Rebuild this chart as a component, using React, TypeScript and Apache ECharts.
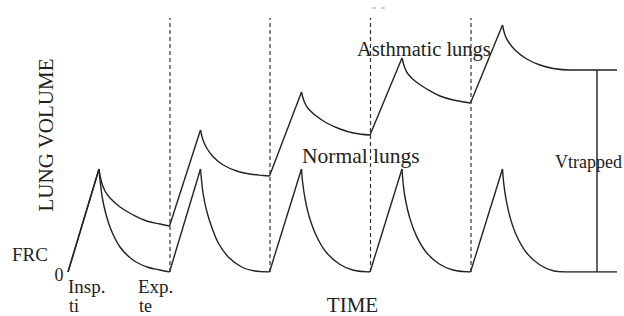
import React, { useEffect, useRef } from "react";
import * as echarts from "echarts";

// Time (x) in arbitrary units, lung volume above FRC (y) in arbitrary units
const startPoint: number[] = [0, 0];

const normalCycle1 = [[0.31, 103], [0.32, 92], [0.353, 69], [0.42, 45], [0.52, 25], [0.65, 12], [0.79, 5], [0.92, 2], [1.015, 0]];
const normalCycle2 = [[1.325, 103], [1.337, 90], [1.355, 76], [1.387, 61], [1.437, 45], [1.503, 29], [1.603, 15], [1.737, 5], [1.87, 1], [2.015, 0]];
const normalCycle3 = [[2.335, 103], [2.347, 89], [2.373, 72], [2.413, 55], [2.48, 37], [2.58, 20], [2.713, 8], [2.847, 2], [3.02, 0]];
const normalCycle4 = [[3.34, 103], [3.352, 88], [3.375, 72], [3.415, 55], [3.48, 37], [3.58, 20], [3.713, 8], [3.85, 2], [4.025, 0]];
const normalCycle5 = [[4.345, 103], [4.357, 89], [4.38, 73], [4.42, 55], [4.487, 36], [4.587, 19], [4.72, 7], [4.86, 1], [4.987, 0], [5.49, 0]];

const asthmaCycle1 = [[0.31, 103], [0.335, 90], [0.37, 81], [0.42, 74], [0.52, 65], [0.653, 57], [0.787, 51], [0.92, 48], [1.015, 46]];
const asthmaCycle2 = [[1.325, 142], [1.35, 132], [1.387, 124], [1.453, 115], [1.553, 107], [1.687, 101], [1.82, 98], [1.953, 96.5], [2.015, 96]];
const asthmaCycle3 = [[2.335, 180], [2.36, 171], [2.397, 164], [2.47, 157], [2.587, 149], [2.72, 143], [2.853, 139], [3.02, 137]];
const asthmaCycle4 = [[3.34, 214], [3.365, 205], [3.4, 198], [3.47, 191], [3.587, 183], [3.72, 176], [3.853, 172], [4.025, 169]];
const asthmaCycle5 = [[4.345, 247], [4.37, 237], [4.405, 230], [4.47, 222], [4.587, 213], [4.72, 207], [4.853, 203.5], [5.02, 202], [5.49, 202]];

const dashedTimes = [1.02, 2.02, 3.025, 4.03];
const dashedTop = 254;
const vtrappedTime = 5.29;
const vtrappedRange = [0, 202];

const normalCycles = [normalCycle1, normalCycle2, normalCycle3, normalCycle4, normalCycle5];
const asthmaCycles = [asthmaCycle1, asthmaCycle2, asthmaCycle3, asthmaCycle4, asthmaCycle5];

const INK = "#222";
const FONT = "'Liberation Serif', 'Times New Roman', Times, serif";

function buildCurve(cycles: number[][][]) {
  const out: any[] = [];
  let prev = startPoint;
  cycles.forEach((cyc) => {
    out.push({
      type: "line",
      data: [prev, cyc[0]],
      symbol: "none",
      silent: true,
      lineStyle: { color: INK, width: 1.4 },
    });
    out.push({
      type: "line",
      data: cyc,
      symbol: "none",
      smooth: 0.4,
      silent: true,
      lineStyle: { color: INK, width: 1.4 },
    });
    prev = cyc[cyc.length - 1];
  });
  return out;
}

export default function App() {
  const ref = useRef<HTMLDivElement>(null);
  useEffect(() => {
    if (!ref.current) return;
    const chart = echarts.init(ref.current, undefined, { renderer: "svg" });
    const series: any[] = [
      ...buildCurve(normalCycles),
      ...buildCurve(asthmaCycles),
      ...dashedTimes.map((t) => ({
        type: "line",
        data: [[t, 0], [t, dashedTop]],
        symbol: "none",
        silent: true,
        lineStyle: { color: "#333", width: 1.2, type: [4, 3] },
      })),
      {
        type: "line",
        data: [[vtrappedTime, vtrappedRange[0]], [vtrappedTime, vtrappedRange[1]]],
        symbol: "none",
        silent: true,
        lineStyle: { color: INK, width: 1.4 },
      },
    ];
    const txt = (text: string, x: number, y: number, size: number, align = "left", extra: any = {}) => ({
      type: "text",
      x,
      y,
      silent: true,
      ...extra,
      style: {
        text,
        fill: INK,
        font: `${size}px ${FONT}`,
        textAlign: align,
        textVerticalAlign: "middle",
      },
    });
    chart.setOption({
      animation: false,
      backgroundColor: "#fff",
      grid: { left: 68, right: 6, top: 12, bottom: 44 },
      xAxis: { type: "value", min: 0, max: 5.5, show: false },
      yAxis: { type: "value", min: 0, max: 260, show: false },
      series,
      graphic: [
        txt("LUNG VOLUME", 45.5, 135, 21, "center", { rotation: Math.PI / 2 }),
        txt("FRC", 12, 254.5, 19),
        txt("0", 59, 274.5, 18, "center"),
        txt("Insp.", 68, 286, 19),
        txt("ti", 69, 306, 18),
        txt("Exp.", 138, 286, 19),
        txt("te", 139, 306, 18),
        txt("TIME", 352.5, 304.5, 21, "center"),
        txt("Asthmatic lungs", 357, 48.5, 20.5),
        txt("Normal lungs", 302, 155.5, 21.5),
        txt("Vtrapped", 555, 161.5, 18),
        {
          type: "line",
          silent: true,
          shape: { x1: 372, y1: 8, x2: 386, y2: 8 },
          style: { stroke: "#aaa", lineWidth: 1, lineDash: [4, 5] },
        },
      ],
    });
    return () => chart.dispose();
  }, []);
  return (
    <div
      ref={ref}
      style={{ position: "fixed", left: 0, top: 0, width: 624, height: 316 }}
    />
  );
}
